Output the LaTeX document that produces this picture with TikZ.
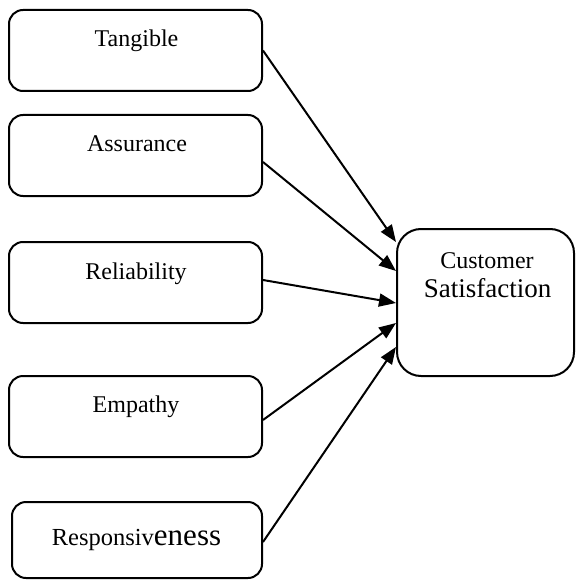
\documentclass[tikz,border=0pt]{standalone}
\usepackage{fontspec}
\setmainfont{Liberation Serif}
\usetikzlibrary{arrows.meta}
\tikzset{
  box/.style={draw, line width=2pt, rounded corners=14pt, inner sep=0pt},
  lbl/.style={anchor=base, inner sep=0pt, font=\fontsize{24}{28}\selectfont},
  arr/.style={line width=2pt, -{Triangle[length=17pt,width=13pt]}}
}
\begin{document}
\begin{tikzpicture}[x=1pt,y=-1pt]
\useasboundingbox (0,0) rectangle (575,580);
\node[box, minimum width=253pt, minimum height=81pt] (t) at (135.5,50.5) {};
\node[box, minimum width=253pt, minimum height=81pt] (a) at (135.5,155.5) {};
\node[box, minimum width=253pt, minimum height=81pt] (r) at (135.5,282.5) {};
\node[box, minimum width=253pt, minimum height=81pt] (e) at (135.5,416.5) {};
\node[box, minimum width=250pt, minimum height=76pt] (s) at (137,540) {};
\node[box, rounded corners=24pt, minimum width=177pt, minimum height=147pt] (c) at (485.5,302.5) {};

\node[lbl] (tl) at (136.5,46.5) {Tangible};
\node[lbl] (al) at (137,151.5) {Assurance};
\node[lbl] (rl) at (136,279) {Reliability};
\node[lbl] (el) at (136,412) {Empathy};
\node[lbl] (sl) at (136.5,545) {\fontsize{24.5}{28}\selectfont Responsiv\fontsize{31}{35}\selectfont eness};
\node[lbl] (cl1) at (487,268) {\fontsize{24}{28}\selectfont Customer};
\node[lbl] (cl2) at (487.5,297) {\fontsize{27}{31}\selectfont Satisfaction};

\coordinate (c1) at (c.west |- 0,242);
\coordinate (c2) at (c.west |- 0,271);
\coordinate (c3) at (c.west |- 0,303);
\coordinate (c4) at (c.west |- 0,323);
\coordinate (c5) at (c.west |- 0,347);

\draw[arr] (t.east) -- (c1);
\draw[arr] (a.east |- 0,162) -- (c2);
\draw[arr] (r.east |- 0,280) -- (c3);
\draw[arr] (e.east |- 0,420) -- (c4);
\draw[arr] (s.east |- 0,542) -- (c5);
\end{tikzpicture}
\end{document}
